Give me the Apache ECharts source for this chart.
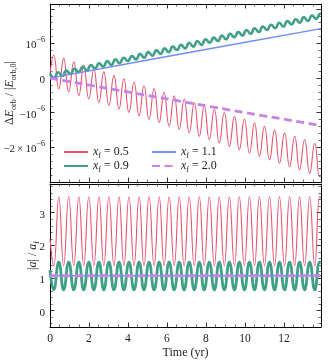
<!DOCTYPE html>
<html>
<head>
<meta charset="utf-8">
<script src="https://cdn.jsdelivr.net/npm/echarts@6/dist/echarts.min.js"></script>
<style>
html, body { margin: 0; padding: 0; background: #fff; }
#chart { width: 329px; height: 362px; }
</style>
</head>
<body>
<div id="chart"></div>
<script>
// times (yr) of the extrema of the x_f = 0.5 / 0.9 oscillations (|a| panel and red ΔE curve)
const tOsc = [0, 0.19, 0.45, 0.70, 0.96, 1.22, 1.48, 1.73, 1.99, 2.25, 2.51, 2.76, 3.02, 3.28, 3.54,
  3.79, 4.05, 4.31, 4.57, 4.82, 5.08, 5.34, 5.60, 5.85, 6.11, 6.37, 6.63, 6.88, 7.14, 7.40, 7.66,
  7.91, 8.17, 8.43, 8.68, 8.94, 9.20, 9.46, 9.71, 9.97, 10.23, 10.49, 10.74, 11.00, 11.26, 11.52,
  11.77, 12.03, 12.29, 12.55, 12.80, 13.06, 13.32, 13.58, 13.83, 13.90];

// ΔE_orb/|E_orb,0| for x_f = 0.5, in units of 1e-6
const dERed = [0.10, 0.66, -0.31, 0.57, -0.40, 0.47, -0.50, 0.37, -0.60, 0.27, -0.70, 0.18, -0.79,
  0.08, -0.89, -0.02, -0.99, -0.12, -1.09, -0.22, -1.19, -0.31, -1.28, -0.41, -1.38, -0.51, -1.48,
  -0.61, -1.58, -0.71, -1.68, -0.80, -1.77, -0.90, -1.87, -1.00, -1.97, -1.10, -2.07, -1.19, -2.16,
  -1.29, -2.26, -1.39, -2.36, -1.49, -2.46, -1.59, -2.56, -1.68, -2.65, -1.78, -2.75, -1.88, -2.85, -2.80];

// x_f = 0.9 energy wiggle has its own (shorter) period
const tGreenTop = [0, 0.21, 0.42, 0.63, 0.84, 1.05, 1.26, 1.47, 1.68, 1.89, 2.10, 2.31, 2.52, 2.73,
  2.94, 3.15, 3.36, 3.57, 3.78, 3.99, 4.20, 4.41, 4.62, 4.83, 5.04, 5.25, 5.46, 5.67, 5.88, 6.09,
  6.30, 6.51, 6.72, 6.93, 7.14, 7.35, 7.56, 7.77, 7.98, 8.19, 8.40, 8.61, 8.82, 9.03, 9.24, 9.45,
  9.66, 9.87, 10.08, 10.29, 10.50, 10.71, 10.92, 11.13, 11.34, 11.55, 11.76, 11.97, 12.18, 12.39,
  12.60, 12.81, 13.02, 13.23, 13.44, 13.65, 13.86, 13.90];
const dEGreen = [0.12, 0.01, 0.17, 0.06, 0.22, 0.12, 0.27, 0.17, 0.33, 0.22, 0.38, 0.28, 0.43, 0.33,
  0.49, 0.38, 0.54, 0.43, 0.59, 0.49, 0.64, 0.54, 0.70, 0.59, 0.75, 0.65, 0.80, 0.70, 0.86, 0.75,
  0.91, 0.81, 0.96, 0.86, 1.02, 0.91, 1.07, 0.96, 1.12, 1.02, 1.17, 1.07, 1.23, 1.12, 1.28, 1.18,
  1.33, 1.23, 1.39, 1.28, 1.44, 1.33, 1.49, 1.39, 1.54, 1.44, 1.60, 1.49, 1.65, 1.55, 1.70, 1.60,
  1.76, 1.65, 1.81, 1.71, 1.86, 1.86];

const tLine = [0, 4.6, 9.1, 13.9];
const dEBlue = [0, 0.48, 0.94, 1.43];
const dEPurple = [0, -0.46, -0.91, -1.37];

// |a|/a_f
const aRed = [2.20, 1.37, 3.49, 1.37, 3.49, 1.37, 3.49, 1.37, 3.49, 1.37, 3.49, 1.37, 3.49, 1.37, 3.49,
  1.37, 3.49, 1.37, 3.49, 1.37, 3.49, 1.37, 3.49, 1.37, 3.49, 1.37, 3.49, 1.37, 3.49, 1.37, 3.49,
  1.37, 3.49, 1.37, 3.49, 1.37, 3.49, 1.37, 3.49, 1.37, 3.49, 1.37, 3.49, 1.37, 3.49, 1.37, 3.49,
  1.37, 3.49, 1.37, 3.49, 1.37, 3.49, 1.37, 3.49, 3.45];
const aGreen = [1.24, 0.64, 1.49, 0.64, 1.49, 0.64, 1.49, 0.64, 1.49, 0.64, 1.49, 0.64, 1.49, 0.64, 1.49,
  0.64, 1.49, 0.64, 1.49, 0.64, 1.49, 0.64, 1.49, 0.64, 1.49, 0.64, 1.49, 0.64, 1.49, 0.64, 1.49,
  0.64, 1.49, 0.64, 1.49, 0.64, 1.49, 0.64, 1.49, 0.64, 1.49, 0.64, 1.49, 0.64, 1.49, 0.64, 1.49,
  0.64, 1.49, 0.64, 1.49, 0.64, 1.49, 0.64, 1.49, 1.46];
const aBlue = [1.07, 1.07, 1.07, 1.07];
const aPurple = [1.07, 1.07, 1.07, 1.07];

const names = ['0.5', '0.9', '1.1', '2.0'];
const colors = ['#e9536c', '#3f9f87', '#6f8ef0', '#c883e6'];

const FONT = 'Liberation Serif';
const rich = {
  n: { fontFamily: FONT, fontSize: 11, color: '#222', lineHeight: 15, verticalAlign: 'bottom' },
  big: { fontFamily: FONT, fontSize: 12, color: '#222', lineHeight: 16 },
  i: { fontFamily: FONT, fontSize: 12, fontStyle: 'italic', color: '#222', lineHeight: 16 },
  sup: { fontFamily: FONT, fontSize: 8, color: '#222', lineHeight: 7, verticalAlign: 'top' },
  sub: { fontFamily: FONT, fontSize: 8, color: '#222', lineHeight: 8, verticalAlign: 'bottom' }
};

const zip = (xs, ys) => xs.map((x, k) => [x, ys[k]]);

function xAxis(grid, pos, labels) {
  return {
    type: 'value', gridIndex: grid, position: pos, min: 0, max: 13.9, interval: 2,
    axisLine: { onZero: false, lineStyle: { color: '#000', width: 1 } },
    axisTick: { inside: true, length: 4.5, lineStyle: { color: '#000', width: 0.8 } },
    minorTick: { show: true, splitNumber: 4, length: 2.5, lineStyle: { color: '#000', width: 0.6 } },
    splitLine: { show: false },
    axisLabel: {
      show: labels, showMaxLabel: false, margin: 6,
      fontFamily: FONT, fontSize: 11.5, color: '#222'
    },
    name: labels ? 'Time (yr)' : '', nameLocation: 'middle', nameGap: 20,
    nameTextStyle: { fontFamily: FONT, fontSize: 12, color: '#222' }
  };
}

function yAxis(grid, pos, range, fmt, name, gap) {
  const ax = {
    type: 'value', gridIndex: grid, position: pos, min: range[0], max: range[1],
    axisLine: { onZero: false, lineStyle: { color: '#000', width: 1 } },
    axisTick: { inside: true, length: 4.5, lineStyle: { color: '#000', width: 0.8 } },
    minorTick: { show: true, splitNumber: 5, length: 2.5, lineStyle: { color: '#000', width: 0.6 } },
    splitLine: { show: false },
    axisLabel: { show: !!fmt, formatter: fmt, margin: 5, rich: rich },
    name: name || '', nameLocation: 'middle', nameGap: gap, nameRotate: 90,
    nameMoveOverlap: false,
    nameTextStyle: { rich: rich }
  };
  if (range[2]) ax.interval = range[2]; else ax.splitNumber = 4;
  return ax;
}

const fmtTop = v => {
  if (v === 0) return '{n|0}';
  if (v === 1) return '{n|10}{sup|−6}';
  if (v === -1) return '{n|−10}{sup|−6}';
  if (v === -2) return '{n|−2\u2009×\u200910}{sup|−6}';
  return '';
};
const fmtBot = v => (Number.isInteger(v) && v >= 0) ? '{n|' + v + '}' : '';

function line(name, xi, data, color, width, dashed) {
  return {
    type: 'line', name: name, xAxisIndex: xi, yAxisIndex: xi, data: data,
    showSymbol: false, symbol: 'none', smooth: dashed === 'smooth', silent: true,
    lineStyle: { color: color, width: width, type: dashed === true ? [8, 4.5] : 'solid' },
    itemStyle: { color: color }
  };
}

const topRed = line(names[0], 0, zip(tOsc, dERed), colors[0], 1.1, 'smooth');
const topGreen = line(names[1], 0, zip(tGreenTop, dEGreen), colors[1], 2.6, 'smooth');
const topBlue = line(names[2], 0, zip(tLine, dEBlue), colors[2], 1.4, false);
const topPurple = line(names[3], 0, zip(tLine, dEPurple), colors[3], 2.8, true);
const botRed = line(names[0], 2, zip(tOsc, aRed), colors[0], 1.1, 'smooth');
const botGreen = line(names[1], 2, zip(tOsc, aGreen), colors[1], 2.8, 'smooth');
const botBlue = line(names[2], 2, zip(tLine, aBlue), colors[2], 1.4, false);
const botPurple = line(names[3], 2, zip(tLine, aPurple), colors[3], 2.8, true);

const legendBase = {
  orient: 'vertical', top: 141, itemWidth: 24, itemHeight: 10, itemGap: 0,
  selectedMode: false,
  itemStyle: { opacity: 0 },
  formatter: name => '{i|x}{sub|f}{big| = ' + name + '}',
  textStyle: { rich: rich }
};

const chart = echarts.init(document.getElementById('chart'));
chart.setOption({
  animation: false,
  backgroundColor: '#fff',
  textStyle: { fontFamily: FONT },
  grid: [
    { left: 50, right: 8, top: 4, height: 178, outerBoundsMode: 'none' },
    { left: 50, right: 8, top: 184, height: 143, outerBoundsMode: 'none' }
  ],
  legend: [
    Object.assign({}, legendBase, { left: 58, data: [names[0], names[1]] }),
    Object.assign({}, legendBase, { left: 146, data: [names[2], names[3]] })
  ],
  xAxis: [xAxis(0, 'bottom', false), xAxis(0, 'top', false), xAxis(1, 'bottom', true), xAxis(1, 'top', false)],
  yAxis: [
    yAxis(0, 'left', [-3, 2.14, 1], fmtTop,
      '{big|Δ}{i|E}{sub|orb}{big| / |}{i|E}{sub|orb,0}{big||}', 32),
    yAxis(0, 'right', [-3, 2.14, 1], null),
    yAxis(1, 'left', [-0.5, 3.88], fmtBot, '{big||}{i|a}{big|| / }{i|a}{sub|f}', 9),
    yAxis(1, 'right', [-0.5, 3.88], null)
  ],
  series: [topRed, topGreen, topBlue, topPurple, botRed, botGreen, botBlue, botPurple]
});
</script>
</body>
</html>
